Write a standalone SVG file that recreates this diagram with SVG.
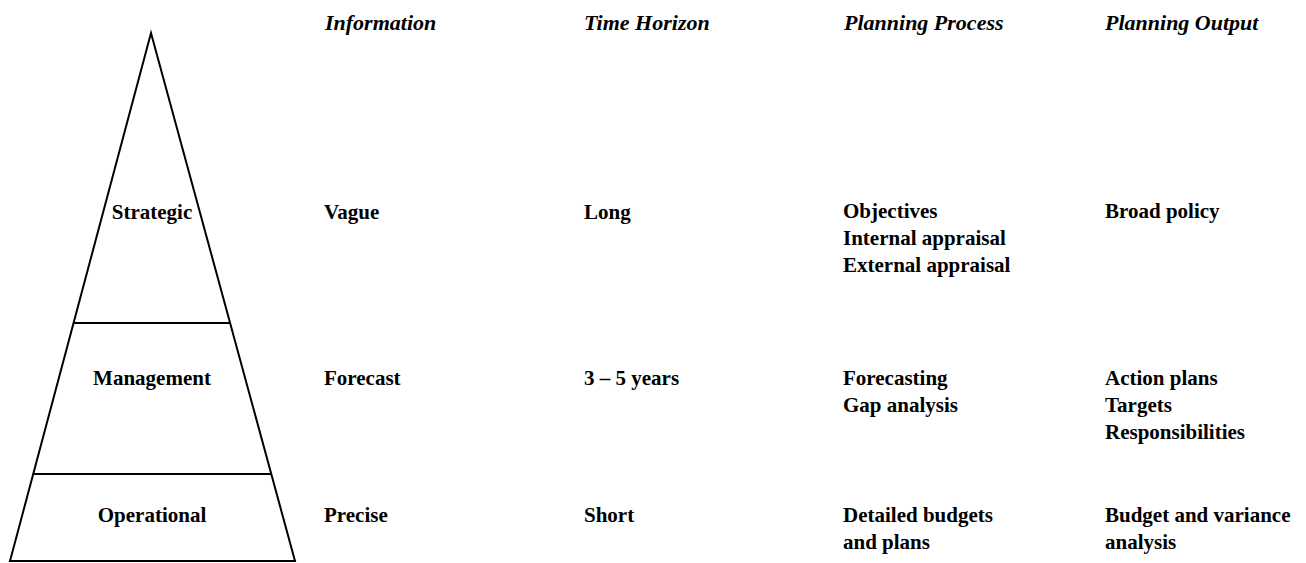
<svg xmlns="http://www.w3.org/2000/svg" width="1306" height="563" viewBox="0 0 1306 563">
<style>
.h{font-family:"Liberation Serif","Times New Roman",serif;font-style:italic;font-weight:bold;font-size:22px;fill:#000}
.t{font-family:"Liberation Serif","Times New Roman",serif;font-weight:bold;font-size:21px;fill:#000}
.ln{stroke:#000;stroke-width:2;fill:none}
</style>
<rect width="1306" height="563" fill="#fff"/>
<g id="pyramid">
<polygon class="ln" points="151,33 10,561 295,561" stroke-linejoin="miter"/>
<line class="ln" x1="74" y1="323" x2="230" y2="323"/>
<line class="ln" x1="33" y1="474" x2="271" y2="474"/>
</g>
<g id="level-strategic"><text class="t" x="152" y="219" text-anchor="middle">Strategic</text></g>
<g id="level-management"><text class="t" x="152" y="385" text-anchor="middle">Management</text></g>
<g id="level-operational"><text class="t" x="152" y="522" text-anchor="middle">Operational</text></g>
<g id="headers">
<text class="h" x="325" y="30">Information</text>
<text class="h" x="584" y="30">Time Horizon</text>
<text class="h" x="844" y="30">Planning Process</text>
<text class="h" x="1105" y="30">Planning Output</text>
</g>
<g id="col-information">
<text class="t" x="324" y="219">Vague</text>
<text class="t" x="324" y="385">Forecast</text>
<text class="t" x="324" y="522">Precise</text>
</g>
<g id="col-time">
<text class="t" x="584" y="219">Long</text>
<text class="t" x="584" y="385">3 – 5 years</text>
<text class="t" x="584" y="522">Short</text>
</g>
<g id="col-process">
<text class="t" x="843" y="218">Objectives</text>
<text class="t" x="843" y="245">Internal appraisal</text>
<text class="t" x="843" y="272">External appraisal</text>
<text class="t" x="843" y="385">Forecasting</text>
<text class="t" x="843" y="412">Gap analysis</text>
<text class="t" x="843" y="522">Detailed budgets</text>
<text class="t" x="843" y="549">and plans</text>
</g>
<g id="col-output">
<text class="t" x="1105" y="218">Broad policy</text>
<text class="t" x="1105" y="385">Action plans</text>
<text class="t" x="1105" y="412">Targets</text>
<text class="t" x="1105" y="439">Responsibilities</text>
<text class="t" x="1105" y="522">Budget and variance</text>
<text class="t" x="1105" y="549">analysis</text>
</g>
</svg>
